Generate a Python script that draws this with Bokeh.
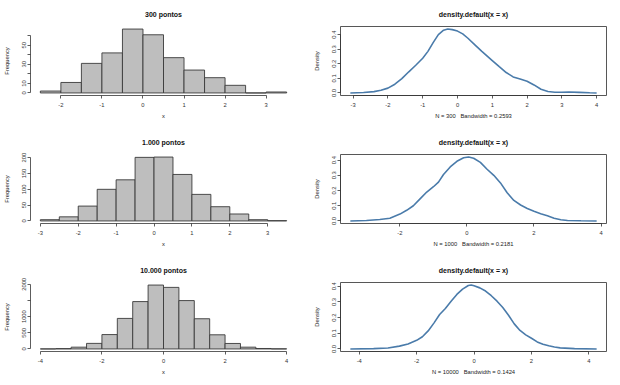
from bokeh.plotting import figure
from bokeh.layouts import column, row
from bokeh.models import FixedTicker, Range1d
from bokeh.embed import file_html
from bokeh.resources import INLINE

FONT = "Liberation Sans"
NB = "\u00a0"

# ---------------- data ----------------
h1_edges = [-2.5, -2.0, -1.5, -1.0, -0.5, 0.0, 0.5, 1.0, 1.5, 2.0, 2.5, 3.0, 3.5]
h1_counts = [2, 11, 31, 42, 67, 61, 37, 24, 16, 8, 0, 1]
h1_xticks = [-2, -1, 0, 1, 2, 3]
h1_xlabels = ["-2", "-1", "0", "1", "2", "3"]
h1_yticks = [0, 10, 20, 30, 40, 50, 60]
h1_ylabels = ["0", "10", "", "30", "", "50", ""]

h2_edges = [-3.0, -2.5, -2.0, -1.5, -1.0, -0.5, 0.0, 0.5, 1.0, 1.5, 2.0, 2.5, 3.0, 3.5]
h2_counts = [4, 13, 47, 100, 130, 201, 202, 147, 84, 45, 22, 4, 1]
h2_xticks = [-3, -2, -1, 0, 1, 2, 3]
h2_xlabels = ["-3", "-2", "-1", "0", "1", "2", "3"]
h2_yticks = [0, 50, 100, 150, 200]
h2_ylabels = ["0", "50", "100", "150", "200"]

h3_edges = [-4.0, -3.5, -3.0, -2.5, -2.0, -1.5, -1.0, -0.5, 0.0, 0.5, 1.0, 1.5, 2.0, 2.5, 3.0, 3.5, 4.0]
h3_counts = [1, 10, 55, 172, 445, 945, 1466, 1978, 1906, 1497, 935, 438, 170, 55, 14, 3]
h3_xticks = [-4, -2, 0, 2, 4]
h3_xlabels = ["-4", "-2", "0", "2", "4"]
h3_yticks = [0, 500, 1000, 1500, 2000]
h3_ylabels = ["0", "500", "1000", "", "2000"]

d1_x = [-3.08, -2.70, -2.40, -2.20, -2.00, -1.80, -1.60, -1.40, -1.20, -1.00, -0.85, -0.70,
        -0.55, -0.40, -0.28, -0.15, 0.00, 0.15, 0.30, 0.50, 0.70, 1.00, 1.20, 1.40, 1.60,
        1.80, 2.00, 2.20, 2.40, 2.60, 2.80, 3.00, 3.20, 3.50, 3.80, 4.00]
d1_y = [0.000, 0.003, 0.009, 0.018, 0.033, 0.060, 0.098, 0.145, 0.190, 0.238, 0.285, 0.345,
        0.400, 0.430, 0.438, 0.434, 0.424, 0.405, 0.375, 0.330, 0.285, 0.222, 0.180, 0.140, 0.110,
        0.095, 0.080, 0.055, 0.025, 0.010, 0.005, 0.005, 0.006, 0.004, 0.001, 0.000]
d1_xticks = [-3, -2, -1, 0, 1, 2, 3, 4]
d1_xlabels = ["-3", "-2", "-1", "0", "1", "2", "3", "4"]

d2_x = [-3.48, -3.00, -2.60, -2.30, -2.00, -1.80, -1.60, -1.40, -1.20, -1.00, -0.85, -0.70,
        -0.50, -0.30, -0.10, 0.05, 0.20, 0.40, 0.60, 0.80, 1.00, 1.20, 1.40, 1.60, 1.80,
        2.00, 2.20, 2.40, 2.60, 2.80, 3.00, 3.40, 3.87]
d2_y = [0.000, 0.003, 0.010, 0.018, 0.045, 0.070, 0.100, 0.145, 0.190, 0.225, 0.255, 0.305,
        0.355, 0.392, 0.415, 0.420, 0.412, 0.385, 0.340, 0.300, 0.250, 0.185, 0.135, 0.105, 0.082,
        0.064, 0.048, 0.034, 0.018, 0.008, 0.003, 0.001, 0.000]
d2_xticks = [-2, 0, 2, 4]
d2_xlabels = ["-2", "0", "2", "4"]

d3_x = [-4.31, -3.50, -3.00, -2.60, -2.30, -2.00, -1.80, -1.60, -1.40, -1.20, -1.00, -0.80,
        -0.60, -0.40, -0.20, -0.10, 0.00, 0.20, 0.40, 0.60, 0.80, 1.00, 1.20, 1.40, 1.60,
        1.80, 2.00, 2.20, 2.40, 2.60, 2.80, 3.00, 3.50, 4.27]
d3_y = [0.000, 0.002, 0.006, 0.018, 0.032, 0.055, 0.078, 0.115, 0.165, 0.220, 0.258, 0.305,
        0.348, 0.382, 0.405, 0.408, 0.403, 0.390, 0.370, 0.340, 0.305, 0.265, 0.215, 0.160, 0.118,
        0.090, 0.068, 0.045, 0.030, 0.020, 0.012, 0.007, 0.002, 0.000]
d3_xticks = [-4, -2, 0, 2, 4]
d3_xlabels = ["-4", "-2", "0", "2", "4"]

d_yticks = [0.0, 0.1, 0.2, 0.3, 0.4]
d_ylabels = ["0.0", "0.1", "0.2", "0.3", "0.4"]

titles_hist = ["300 pontos", "1.000 pontos", "10.000 pontos"]
title_dens = "density.default(x = x)"
dens_xlabels = ["N = 300 " + NB + " Bandwidth = 0.2593",
                "N = 1000 " + NB + " Bandwidth = 0.2181",
                "N = 10000 " + NB + " Bandwidth = 0.1424"]

# ---------------- layout ----------------
ROW_H = [128, 128, 128]
TOP_B = [26, 26, 26]
COL_W = [310, 310]
LEFT_B = [27, 27]
FRAME_W = 269
FRAME_H = 69
AX = "#333333"


def pad(lo, hi):
    d = (hi - lo) * 0.04
    return lo - d, hi + d


def base_fig(r, c, xr, yr, title, xlab, ylab, xticks, xlabels, yticks, ylabels):
    w, h = COL_W[c], ROW_H[r]
    p = figure(width=w, height=h, output_backend="svg", toolbar_location=None,
               x_range=Range1d(*xr), y_range=Range1d(*yr), title=title)
    p.min_border_left = LEFT_B[c]
    p.min_border_right = w - LEFT_B[c] - FRAME_W
    p.min_border_top = TOP_B[r]
    p.min_border_bottom = h - TOP_B[r] - FRAME_H
    p.background_fill_color = "white"
    p.border_fill_color = "white"
    p.xgrid.visible = False
    p.ygrid.visible = False
    p.title.align = "center"
    p.title.text_font = FONT
    p.title.text_font_size = "7px"
    p.title.text_font_style = "bold"
    p.title.text_color = "#111111"
    p.title.standoff = 17

    for ax, ticks, labs, lab in ((p.xaxis[0], xticks, xlabels, xlab),
                                 (p.yaxis[0], yticks, ylabels, ylab)):
        ax.ticker = FixedTicker(ticks=ticks, minor_ticks=[])
        ax.major_label_overrides = {t: s for t, s in zip(ticks, labs)}
        ax.bounds = (ticks[0], ticks[-1])
        ax.axis_label = lab
        ax.axis_label_text_font = FONT
        ax.axis_label_text_font_size = "5.8px"
        ax.axis_label_text_font_style = "normal"
        ax.axis_label_text_color = "#222222"
        ax.major_label_text_font = FONT
        ax.major_label_text_font_size = "5.8px"
        ax.major_label_text_color = "#333333"
        ax.axis_line_color = AX
        ax.axis_line_width = 0.8
        ax.major_tick_line_color = AX
        ax.major_tick_line_width = 0.8
        ax.major_tick_out = 3
        ax.major_tick_in = 0
    p.xaxis.major_label_standoff = 4
    p.xaxis.axis_label_standoff = 3
    p.yaxis.major_label_orientation = "vertical"
    p.yaxis.major_label_standoff = 1
    p.yaxis.axis_label_standoff = 10
    return p


def hist_fig(r, edges, counts, title, xticks, xlabels, yticks, ylabels):
    xr = pad(edges[0], edges[-1])
    yr = pad(0, max(counts))
    p = base_fig(r, 0, xr, yr, title, "x", "Frequency", xticks, xlabels, yticks, ylabels)
    p.outline_line_color = None
    p.quad(left=edges[:-1], right=edges[1:], bottom=0, top=counts,
           fill_color="#BEBEBE", line_color="#3a3a3a", line_width=0.9)
    return p


def dens_fig(r, xs, ys, xlab, xticks, xlabels):
    xr = pad(min(xs), max(xs))
    yr = pad(0, max(ys))
    p = base_fig(r, 1, xr, yr, title_dens, xlab, "Density", xticks, xlabels, d_yticks, d_ylabels)
    p.outline_line_color = "#444444"
    p.outline_line_width = 0.9
    p.line(xs, ys, line_color="#4A7BAA", line_width=1.6)
    return p


p1 = hist_fig(0, h1_edges, h1_counts, titles_hist[0], h1_xticks, h1_xlabels, h1_yticks, h1_ylabels)
p2 = dens_fig(0, d1_x, d1_y, dens_xlabels[0], d1_xticks, d1_xlabels)
p3 = hist_fig(1, h2_edges, h2_counts, titles_hist[1], h2_xticks, h2_xlabels, h2_yticks, h2_ylabels)
p4 = dens_fig(1, d2_x, d2_y, dens_xlabels[1], d2_xticks, d2_xlabels)
p5 = hist_fig(2, h3_edges, h3_counts, titles_hist[2], h3_xticks, h3_xlabels, h3_yticks, h3_ylabels)
p6 = dens_fig(2, d3_x, d3_y, dens_xlabels[2], d3_xticks, d3_xlabels)

layout = column(row(p1, p2), row(p3, p4), row(p5, p6))
open("out.html", "w").write(file_html(layout, INLINE))
